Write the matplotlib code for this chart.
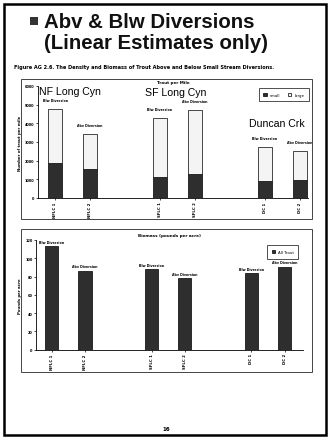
import matplotlib
matplotlib.use("Agg")
import matplotlib.pyplot as plt
from matplotlib.patches import Rectangle

# ---- data ----
sites = ["NFLC 1", "NFLC 2", "SFLC 1", "SFLC 2", "DC 1", "DC 2"]
positions = [0, 1, 3, 4, 6, 7]
reach = ["Blw Diversion", "Abv Diversion", "Blw Diversion", "Abv Diversion", "Blw Diversion", "Abv Diversion"]
small_trout = [1850, 1550, 1100, 1300, 900, 950]
total_trout = [4750, 3450, 4300, 4700, 2750, 2500]
large_trout = [t - s for t, s in zip(total_trout, small_trout)]
biomass = [113, 86, 88, 78, 83.5, 91]
groups = ["NF Long Cyn", "SF Long Cyn", "Duncan Crk"]
density_ticks = [0, 1000, 2000, 3000, 4000, 5000, 6000]
biomass_ticks = [0, 20, 40, 60, 80, 100, 120]

W, H = 330, 439
fig = plt.figure(figsize=(W / 100, H / 100), dpi=100)
fig.patch.set_facecolor("white")

def fx(x):
    return x / W

def fy(y):
    return 1 - y / H

GROUPFONT = ["Liberation Sans", "DejaVu Sans"]

# slide frame
fig.patches.append(Rectangle((fx(4), fy(436)), fx(322), (436 - 5) / H, transform=fig.transFigure,
                             fill=False, edgecolor="black", linewidth=1.8))
# title
fig.patches.append(Rectangle((fx(30), fy(26)), fx(8), 8 / H, transform=fig.transFigure,
                             facecolor="#333333", edgecolor="none"))
fig.text(fx(44), fy(28), "Abv & Blw Diversions", fontsize=14.7, fontweight="bold",
         family=["Liberation Sans", "DejaVu Sans"], va="baseline", ha="left", color="#111111")
fig.text(fx(44), fy(49), "(Linear Estimates only)", fontsize=14.7, fontweight="bold",
         family=["Liberation Sans", "DejaVu Sans"], va="baseline", ha="left", color="#111111")
fig.text(fx(14), fy(68), "Figure AG 2.6. The Density and Biomass of Trout Above and Below Small Stream Diversions.",
         fontsize=3.6, fontweight="bold", va="center", ha="left")

# chart frames
fig.patches.append(Rectangle((fx(21), fy(220)), fx(291), (220 - 80) / H, transform=fig.transFigure,
                             fill=False, edgecolor="#444444", linewidth=0.7))
fig.patches.append(Rectangle((fx(21), fy(373)), fx(291), (373 - 230) / H, transform=fig.transFigure,
                             fill=False, edgecolor="#444444", linewidth=0.7))

# ---- top chart: trout per mile ----
ax1 = fig.add_axes([fx(38), fy(199), fx(308 - 38), (199 - 87) / H])
ax1.bar(positions, small_trout, width=0.4, color="#2e2e2e", edgecolor="black", linewidth=0.5)
ax1.bar(positions, large_trout, bottom=small_trout, width=0.4, color="#f4f4f4",
        edgecolor="black", linewidth=0.5)
ax1.set_xlim(-0.49, 7.23)
ax1.set_ylim(0, 6000)
ax1.set_yticks(density_ticks)
ax1.set_yticklabels([str(v) for v in density_ticks], fontsize=2.5, fontweight="bold")
ax1.set_xticks(positions)
ax1.set_xticklabels(sites, rotation=90, fontsize=2.8, fontweight="bold")
ax1.tick_params(length=1.5, width=0.5, pad=1)
for s in ["top", "right"]:
    ax1.spines[s].set_visible(False)
for s in ["left", "bottom"]:
    ax1.spines[s].set_linewidth(0.6)
ax1.set_ylabel("Number of trout per mile", fontsize=2.8, fontweight="bold", labelpad=2)
for p, t, r in zip(positions, total_trout, reach):
    ax1.text(p, t + 380, r, fontsize=2.3, fontweight="bold", ha="center", va="bottom")
ax1.text(0.5, 1.02, "Trout per Mile", transform=ax1.transAxes, fontsize=3, fontweight="bold",
         ha="center", va="bottom")
ax1.text(-0.45, 6020, groups[0], fontsize=7.6, family=GROUPFONT, ha="left", va="top")
ax1.text(3.45, 5950, groups[1], fontsize=7.6, family=GROUPFONT, ha="center", va="top")
ax1.text(6.35, 4300, groups[2], fontsize=7.6, family=GROUPFONT, ha="center", va="top")
leg1 = ax1.legend(["small", "large"], loc="upper right", fontsize=2.8, ncol=2, frameon=True,
                  handlelength=0.8, borderpad=1.2, bbox_to_anchor=(1.01, 1.0), fancybox=False)
leg1.get_frame().set_edgecolor("black")
leg1.get_frame().set_linewidth(0.6)

# ---- bottom chart: biomass ----
ax2 = fig.add_axes([fx(36), fy(350.7), fx(303 - 36), (350.7 - 241) / H])
ax2.bar(positions, biomass, width=0.4, color="#2e2e2e", edgecolor="black", linewidth=0.5,
        label="All Trout")
ax2.set_xlim(-0.47, 7.55)
ax2.set_ylim(0, 120)
ax2.set_yticks(biomass_ticks)
ax2.set_yticklabels([str(v) for v in biomass_ticks], fontsize=2.5, fontweight="bold")
ax2.set_xticks(positions)
ax2.set_xticklabels(sites, rotation=90, fontsize=2.8, fontweight="bold")
ax2.tick_params(length=1.5, width=0.5, pad=1)
for s in ["top", "right"]:
    ax2.spines[s].set_visible(False)
for s in ["left", "bottom"]:
    ax2.spines[s].set_linewidth(0.6)
ax2.set_ylabel("Pounds per acre", fontsize=2.8, fontweight="bold", labelpad=2)
for p, b, r in zip(positions, biomass, reach):
    ax2.text(p, b + 3, r, fontsize=2.3, fontweight="bold", ha="center", va="bottom")
ax2.text(0.5, 1.03, "Biomass (pounds per acre)", transform=ax2.transAxes, fontsize=3,
         fontweight="bold", ha="center", va="bottom")
leg2 = ax2.legend(loc="upper right", fontsize=2.8, frameon=True, handlelength=0.8,
                  borderpad=1.2, bbox_to_anchor=(0.99, 0.97), fancybox=False)
leg2.get_frame().set_edgecolor("black")
leg2.get_frame().set_linewidth(0.6)

fig.text(fx(166), fy(430), "16", fontsize=4, fontweight="bold", ha="center", va="center")

fig.savefig("out.png", dpi=100)
